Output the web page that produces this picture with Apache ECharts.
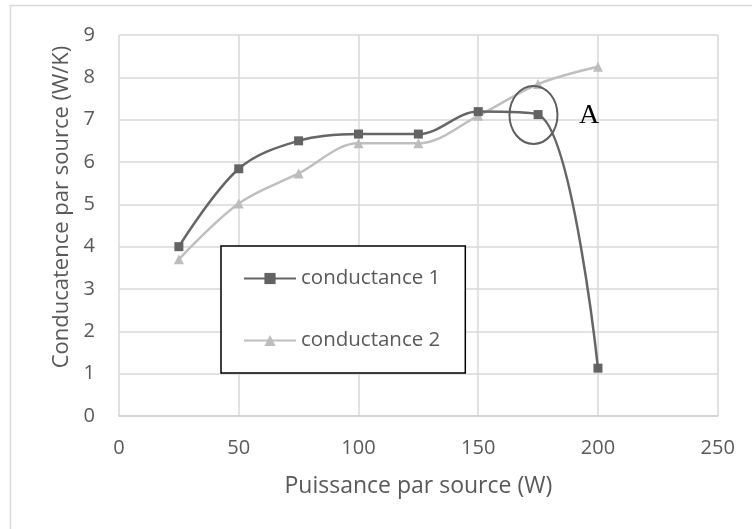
<!DOCTYPE html>
<html>
<head>
<meta charset="utf-8">
<script src="https://cdn.jsdelivr.net/npm/echarts@6/dist/echarts.min.js"></script>
<style>
html,body{margin:0;padding:0;background:#fff;}
#c{width:752px;height:529px;}
</style>
</head>
<body>
<div id="c"></div>
<script>
// Data
const puissance = [25, 50, 75, 100, 125, 150, 175, 200];
const conductance1 = [4.0, 5.84, 6.5, 6.66, 6.66, 7.19, 7.12, 1.13];
const conductance2 = [3.7, 5.02, 5.73, 6.44, 6.44, 7.09, 7.84, 8.25];
const seriesNames = ['conductance 1', 'conductance 2'];
const xTitle = 'Puissance par source (W)';
const yTitle = 'Conducatence par source (W/K)';
const annotationLabel = 'A';
const annotatedPoint = [175, 7.12];

const FONT = 'Open Sans';
const TXT = '#595959';
const GRID = '#d9d9d9';

const chart = echarts.init(document.getElementById('c'), null, {renderer: 'canvas'});

function pairs(xs, ys) { return xs.map((x, i) => [x, ys[i]]); }

const option = {
  animation: false,
  backgroundColor: '#fff',
  textStyle: {fontFamily: FONT},
  grid: {left: 119, right: 34.3, top: 35, bottom: 113, containLabel: false},
  xAxis: {
    type: 'value', min: 0, max: 250, interval: 50,
    name: xTitle, nameLocation: 'middle', nameGap: 59,
    nameTextStyle: {color: TXT, fontSize: 23, fontFamily: FONT, lineHeight: 23},
    axisLine: {show: true, lineStyle: {color: '#cfcfcf', width: 1.5}},
    axisTick: {show: false},
    axisLabel: {color: TXT, fontSize: 20, fontFamily: FONT, margin: 22, lineHeight: 20},
    splitLine: {show: true, lineStyle: {color: GRID, width: 1.5}}
  },
  yAxis: {
    type: 'value', min: 0, max: 9, interval: 1,
    axisLine: {show: false},
    axisTick: {show: false},
    axisLabel: {color: TXT, fontSize: 20, fontFamily: FONT, margin: 24},
    splitLine: {show: true, lineStyle: {color: GRID, width: 1.5}}
  },
  legend: {
    orient: 'vertical',
    left: 221, top: 246,
    padding: [22, 25, 22, 22],
    itemGap: 41,
    itemWidth: 52, itemHeight: 14,
    borderColor: '#000', borderWidth: 1.5,
    backgroundColor: '#fff',
    textStyle: {color: TXT, fontSize: 20.5, fontFamily: FONT},
    data: seriesNames
  },
  series: [
    {
      name: seriesNames[0], type: 'line', smooth: 0.35,
      data: pairs(puissance, conductance1),
      symbol: 'rect', symbolSize: 9,
      lineStyle: {color: '#666666', width: 2.5},
      itemStyle: {color: '#636363'},
      z: 3
    },
    {
      name: seriesNames[1], type: 'line', smooth: 0.35,
      data: pairs(puissance, conductance2),
      symbol: 'triangle', symbolSize: 10,
      lineStyle: {color: '#bfbfbf', width: 2.5},
      itemStyle: {color: '#bdbdbd'},
      z: 2
    }
  ]
};
chart.setOption(option);

const p = chart.convertToPixel({gridIndex: 0}, annotatedPoint);
chart.setOption({
  graphic: [
    {
      type: 'rect', silent: true, z: -1,
      shape: {x: 10.5, y: 5.5, width: 900, height: 700},
      style: {fill: null, stroke: GRID, lineWidth: 1.5}
    },
    {
      type: 'text', silent: true,
      x: 62, y: 207, rotation: Math.PI / 2,
      style: {text: yTitle, fill: TXT, font: '22px "Open Sans"', textAlign: 'center', textVerticalAlign: 'middle'}
    },
    {
      type: 'ellipse', silent: true, z: 10,
      shape: {cx: p[0] - 4.6, cy: p[1] + 0.4, rx: 24, ry: 29},
      style: {fill: null, stroke: '#5f5f5f', lineWidth: 2}
    },
    {
      type: 'text', silent: true, z: 10,
      x: p[0] + 51, y: p[1] + 1.5,
      style: {text: annotationLabel, fill: '#000', font: '28px "Liberation Serif"', textAlign: 'center', textVerticalAlign: 'middle'}
    }
  ]
});
</script>
</body>
</html>
